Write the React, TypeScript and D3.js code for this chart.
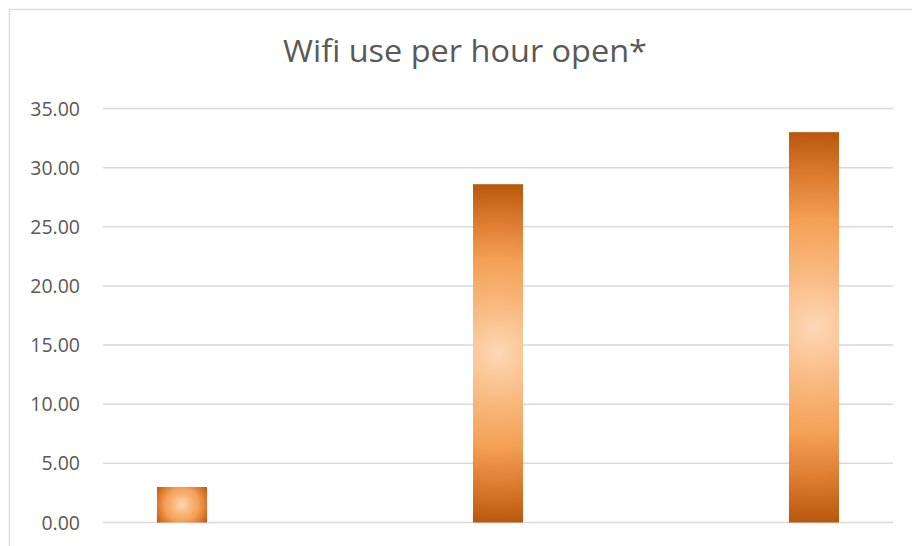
import React from "react";
import * as d3 from "d3";

const categories = ["Cat 1", "Cat 2", "Cat 3", "Cat 4", "Cat 5"];
const values = [3.0, 0, 28.6, 0, 33.0];
const yTicks = [0, 5, 10, 15, 20, 25, 30, 35];
const title = "Wifi use per hour open*";

const W = 912;
const H = 546;

export default function App() {
  const y = d3.scaleLinear().domain([0, 35]).range([522.5, 108.5]);
  const x = d3.scaleBand<string>().domain(categories).range([103, 893]).padding(0);
  const bw = x.bandwidth() * 0.3165;
  const fmt = d3.format(".2f");

  return (
    <svg
      width={W}
      height={H}
      style={{ position: "absolute", left: 0, top: 0, background: "#fff" }}
      fontFamily="'Open Sans', sans-serif"
    >
      <defs>
        {categories.map((c, i) => {
          const v = values[i];
          if (!v) return null;
          const x0 = (x(c) as number) + (x.bandwidth() - bw) / 2;
          const y0 = y(v);
          const h = y(0) - y0;
          const cx = x0 + bw / 2;
          const cy = y0 + h / 2;
          const r = Math.sqrt((bw / 2) ** 2 + (h / 2) ** 2);
          return (
            <radialGradient key={c} id={`g${i}`} gradientUnits="userSpaceOnUse" cx={cx} cy={cy} r={r}>
              <stop offset="0" stopColor="#fdd8b6" />
              <stop offset="0.3" stopColor="#f9b77c" />
              <stop offset="0.55" stopColor="#f4a055" />
              <stop offset="0.8" stopColor="#d9772c" />
              <stop offset="1" stopColor="#b8570b" />
            </radialGradient>
          );
        })}
      </defs>
      <rect x={9.5} y={9.5} width={W + 20} height={H + 20} fill="#fff" stroke="#d9d9d9" strokeWidth={1.3} />
      <text
        x={465}
        y={61.5}
        textAnchor="middle"
        fontSize={31}
        fill="#595959"
        textLength={364}
        lengthAdjust="spacingAndGlyphs"
      >
        {title}
      </text>
      {yTicks.map((t) => (
        <g key={t}>
          <line x1={103} x2={893} y1={y(t)} y2={y(t)} stroke="#d9d9d9" strokeWidth={1.5} />
          <text x={80} y={y(t)} dy="0.36em" textAnchor="end" fontSize={19.5} fill="#595959">
            {fmt(t)}
          </text>
        </g>
      ))}
      {categories.map((c, i) => {
        const v = values[i];
        if (!v) return null;
        const x0 = (x(c) as number) + (x.bandwidth() - bw) / 2;
        return <rect key={c} x={x0} y={y(v)} width={bw} height={y(0) - y(v)} fill={`url(#g${i})`} />;
      })}
    </svg>
  );
}
